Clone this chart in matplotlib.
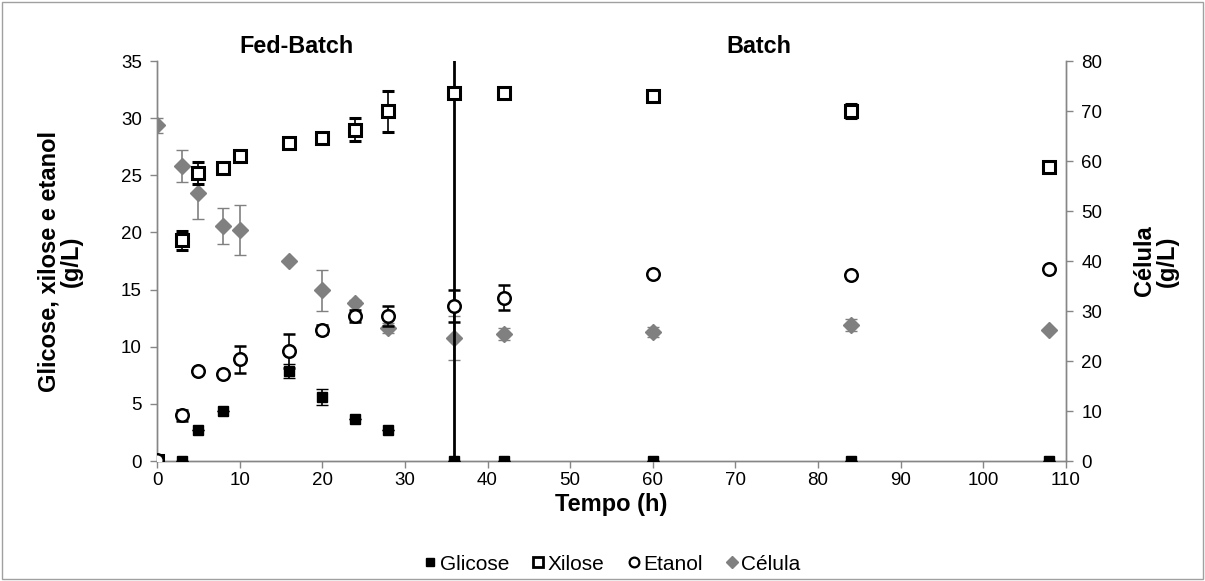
import numpy as np
import matplotlib.pyplot as plt
from matplotlib.patches import Rectangle
from matplotlib.lines import Line2D

plt.rcParams['font.family'] = ['Liberation Sans', 'DejaVu Sans']

# Tempo (h)
t = [0, 3, 5, 8, 10, 16, 20, 24, 28, 36, 42, 60, 84, 108]
t_gli = [0, 3, 5, 8, 16, 20, 24, 28, 36, 42, 60, 84, 108]

glicose = [0, 0, 2.7, 4.35, 7.9, 5.6, 3.7, 2.7, 0, 0, 0, 0, 0]
glicose_err = [0, 0, 0, 0, 0.6, 0.7, 0, 0, 0, 0, 0, 0, 0]

xilose = [0, 19.3, 25.2, 25.6, 26.7, 27.8, 28.3, 29.0, 30.6, 32.2, 32.2, 31.9, 30.6, 25.7]
xilose_err = [0, 0.8, 1.0, 0, 0, 0, 0, 1.0, 1.8, 0, 0, 0, 0.6, 0]

etanol = [0.1, 4.0, 7.9, 7.6, 8.9, 9.6, 11.5, 12.7, 12.7, 13.6, 14.3, 16.4, 16.3, 16.8]
etanol_err = [0, 0.5, 0, 0, 1.2, 1.5, 0.4, 0.5, 0.9, 1.4, 1.1, 0, 0, 0]

celula = [67.2, 59.1, 53.7, 47.1, 46.2, 40.1, 34.2, 31.7, 26.7, 24.6, 25.5, 25.9, 27.2, 26.2]
celula_err = [1.5, 3.2, 5.2, 3.6, 5.0, 0, 4.1, 0.5, 1.0, 4.4, 1.2, 1.0, 1.2, 0]

fig = plt.figure(figsize=(12.05, 5.81), dpi=100)
ax = fig.add_axes([0.1303, 0.2065, 0.7543, 0.6885])
ax2 = ax.twinx()

gray = '#868686'

# separation line between Fed-Batch and Batch
ax.axvline(36, color='black', lw=2, zorder=1)

ax2.errorbar(t, celula, yerr=celula_err, fmt='D', color='#808080', ms=8,
             ecolor='#808080', elinewidth=1.2, capsize=4, zorder=3)
ax.errorbar(t_gli, glicose, yerr=glicose_err, fmt='s', color='black', ms=7,
            ecolor='black', elinewidth=1.2, capsize=4, zorder=4)
ax.errorbar(t, xilose, yerr=xilose_err, fmt='s', mfc='white', mec='black', mew=2.2,
            ms=9, ecolor='black', elinewidth=1.2, capsize=4, zorder=4)
ax.errorbar(t, etanol, yerr=etanol_err, fmt='o', mfc='white', mec='black', mew=1.8,
            ms=9, ecolor='black', elinewidth=1.2, capsize=4, zorder=4)

ax.set_zorder(ax2.get_zorder() + 1)
ax.patch.set_visible(False)

ax.set_xlim(0, 110)
ax.set_ylim(0, 35)
ax2.set_ylim(0, 80)
ax.set_xticks(np.arange(0, 111, 10))
ax.set_yticks(np.arange(0, 36, 5))
ax2.set_yticks(np.arange(0, 81, 10))

for a in (ax, ax2):
    a.spines['top'].set_visible(False)
    for s in ('left', 'right', 'bottom'):
        a.spines[s].set_color(gray)
        a.spines[s].set_linewidth(1)
    a.tick_params(direction='out', length=5, color=gray, labelsize=13.5, width=1)
ax.tick_params(axis='x', pad=3)
ax.tick_params(axis='y', pad=6)
ax2.tick_params(axis='y', pad=6)

ax.set_xlabel('Tempo (h)', fontsize=17, fontweight='bold', labelpad=3)
ax.set_ylabel('Glicose, xilose e etanol\n(g/L)', fontsize=17, fontweight='bold',
              labelpad=27, linespacing=1.0)
ax2.set_ylabel('Célula\n(g/L)', fontsize=17, fontweight='bold', labelpad=55,
               linespacing=1.0, rotation=90, va='bottom')

ax.text(16.9, 35.7, 'Fed-Batch', fontsize=16.8, fontweight='bold', ha='center', va='baseline')
ax.text(72.8, 35.7, 'Batch', fontsize=16.8, fontweight='bold', ha='center', va='baseline')

handles = [
    Line2D([], [], ls='none', marker='s', color='black', ms=6),
    Line2D([], [], ls='none', marker='s', mfc='white', mec='black', mew=2, ms=7),
    Line2D([], [], ls='none', marker='o', mfc='white', mec='black', mew=1.6, ms=7),
    Line2D([], [], ls='none', marker='D', color='#808080', ms=6),
]
labels = ['Glicose', 'Xilose', 'Etanol', 'Célula']
fig.legend(handles, labels, loc='center', bbox_to_anchor=(0.508, 0.029), ncol=4,
           frameon=False, fontsize=15, handlelength=0.6, handletextpad=0.15,
           columnspacing=1.1)

fig.patches.append(Rectangle((0.002, 0.003), 0.996, 0.994, transform=fig.transFigure,
                             fill=False, edgecolor='#a0a0a0', lw=1))

fig.savefig('out.png', dpi=100)
